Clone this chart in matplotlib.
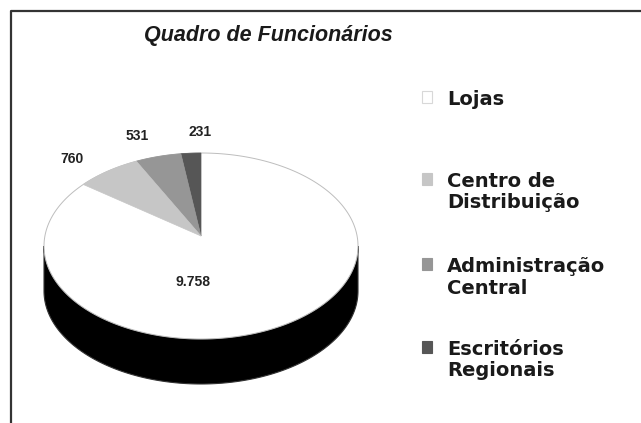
import numpy as np
import matplotlib.pyplot as plt
from matplotlib import font_manager
from matplotlib.patches import Polygon, Rectangle

# data
categories = ['Lojas', 'Centro de\nDistribuição', 'Administração\nCentral', 'Escritórios\nRegionais']
values = [9758, 760, 531, 231]
value_labels = ['9.758', '760', '531', '231']
colors = ['#ffffff', '#c6c6c6', '#969696', '#565656']

installed = {f.name for f in font_manager.fontManager.ttflist}
narrow = 'Liberation Sans Narrow' if 'Liberation Sans Narrow' in installed else 'Liberation Sans'
plt.rcParams['font.family'] = ['Liberation Sans', 'DejaVu Sans']

fig = plt.figure(figsize=(6.41, 4.23), dpi=100)
ax = fig.add_axes([0, 0, 1, 1])
ax.set_xlim(0, 641)
ax.set_ylim(423, 0)
ax.axis('off')

# frame
ax.plot([11, 11, 641], [423, 11, 11], color='#333333', lw=1.6, solid_capstyle='butt')

ax.text(268, 41, 'Quadro de Funcionários', ha='center', va='baseline',
        fontsize=18 if narrow != 'Liberation Sans' else 15.5, fontweight='bold',
        fontstyle='italic', color='#1a1a1a', family=[narrow, 'DejaVu Sans'])

# 3d pie geometry (pixels)
cx, cy = 201, 246
a, b = 157, 93
depth = 45
apex = (cx, cy - 10)


def ell(theta_deg):
    t = np.radians(theta_deg)
    return cx + a * np.cos(t), cy - b * np.sin(t)


# side wall (front half)
th = np.linspace(180, 360, 200)
xs, ys = ell(th)
side = np.concatenate([np.column_stack([xs, ys]),
                       np.column_stack([xs[::-1], ys[::-1] + depth])])
ax.add_patch(Polygon(side, closed=True, facecolor='black', edgecolor='#333333', lw=0.8))

# top face
th = np.linspace(0, 360, 400)
xs, ys = ell(th)
ax.add_patch(Polygon(np.column_stack([xs, ys]), closed=True, facecolor=colors[0],
                     edgecolor='#bdbdbd', lw=0.7))

# small slices, counterclockwise starting at 12 o'clock
total = sum(values)
start = 90.0
mids = {}
for i in [3, 2, 1]:
    span = values[i] / total * 360.0
    th = np.linspace(start, start + span, 30)
    xs, ys = ell(th)
    pts = np.vstack([apex, np.column_stack([xs, ys])])
    ax.add_patch(Polygon(pts, closed=True, facecolor=colors[i], edgecolor=colors[i], lw=0.5))
    mids[i] = start + span / 2
    start += span

# value labels
label_font = dict(fontsize=10, fontweight='bold', color='#222222', family=[narrow, 'DejaVu Sans'])
for i in [1, 2, 3]:
    t = np.radians(mids[i])
    lx = cx + 1.3 * a * np.cos(t) + (12 if i == 3 else -8)
    ly = cy - 1.22 * b * np.sin(t) + (4 if i == 1 else -1)
    ax.text(lx, ly, value_labels[i], ha='center', va='center', **label_font)
ax.text(cx - 8, cy + 36, value_labels[0], ha='center', va='center', **label_font)

# legend
first_baseline = [105, 187, 272, 355]
line_step = 21.5
for i, (cat, base) in enumerate(zip(categories, first_baseline)):
    ax.add_patch(Rectangle((422, base - 14), 10, 12, facecolor=colors[i],
                           edgecolor='#d8d8d8' if i == 0 else colors[i], lw=0.8))
    for k, line in enumerate(cat.split('\n')):
        ax.text(447, base + k * line_step, line, ha='left', va='baseline', fontsize=14,
                fontweight='bold', color='#1a1a1a', family='DejaVu Sans')

fig.savefig('out.png', dpi=100)
